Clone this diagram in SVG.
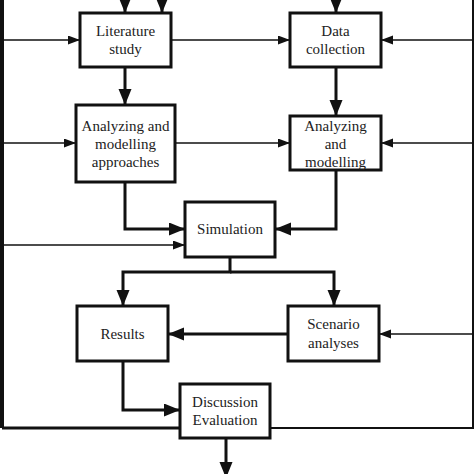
<svg xmlns="http://www.w3.org/2000/svg" width="474" height="474" viewBox="0 0 474 474">
<style>
.box{fill:#fff;stroke:#111;stroke-width:3}
.t{font-family:"Liberation Serif","Times New Roman",serif;font-size:15px;fill:#222;text-anchor:middle}
.thick{fill:none;stroke:#111;stroke-width:3}
.thin{fill:none;stroke:#111;stroke-width:1.6}
</style>
<defs>
<marker id="ah" markerUnits="userSpaceOnUse" markerWidth="18" markerHeight="14" refX="16" refY="6.5" orient="auto"><path d="M0,0 L16,6.5 L0,13 Z" fill="#111"/></marker>
<marker id="as" markerUnits="userSpaceOnUse" markerWidth="14" markerHeight="10" refX="12" refY="4.5" orient="auto"><path d="M0,0 L12,4.5 L0,9 Z" fill="#111"/></marker>
</defs>
<g id="connectors">
<line class="thick" x1="125" y1="-5" x2="125" y2="13" marker-end="url(#ah)"/>
<line class="thick" x1="162" y1="-5" x2="162" y2="13" marker-end="url(#ah)"/>
<line class="thick" x1="336" y1="-5" x2="336" y2="13" marker-end="url(#ah)"/>
<path d="M2,0 V428" fill="none" stroke="#111" stroke-width="4"/>
<path class="thick" d="M2,428 H180"/>
<line class="thin" x1="2" y1="40" x2="80" y2="40" marker-end="url(#as)"/>
<line class="thin" x1="2" y1="143" x2="76" y2="143" marker-end="url(#as)"/>
<line class="thin" x1="2" y1="245" x2="185" y2="245" marker-end="url(#as)"/>
<line class="thin" x1="171" y1="40" x2="290" y2="40" marker-end="url(#as)"/>
<line class="thin" x1="175" y1="143" x2="290" y2="143" marker-end="url(#as)"/>
<path d="M473,0 V428 H270" fill="none" stroke="#111" stroke-width="2"/>
<line class="thin" x1="473" y1="40" x2="381" y2="40" marker-end="url(#as)"/>
<line class="thin" x1="473" y1="143" x2="381" y2="143" marker-end="url(#as)"/>
<line class="thin" x1="473" y1="334" x2="379" y2="334" marker-end="url(#as)"/>
<line class="thick" x1="125" y1="67" x2="125" y2="105" marker-end="url(#ah)"/>
<line class="thick" x1="336" y1="67" x2="336" y2="116" marker-end="url(#ah)"/>
<path class="thick" d="M125,182 V229 H185" marker-end="url(#ah)"/>
<path class="thick" d="M336,170 V229 H275" marker-end="url(#ah)"/>
<path class="thick" d="M230,257 V272 H123 V306" marker-end="url(#ah)"/>
<path class="thick" d="M230,272 H334 V306" marker-end="url(#ah)"/>
<line class="thick" x1="288" y1="334" x2="168" y2="334" marker-end="url(#ah)"/>
<path class="thick" d="M123,361 V410 H180" marker-end="url(#ah)"/>
<line class="thick" x1="226" y1="438" x2="226" y2="478" marker-end="url(#ah)"/>
</g>
<g id="literature">
<rect class="box" x="80" y="13" width="91" height="54"/>
<text class="t" x="125.5" y="36">Literature</text>
<text class="t" x="125.5" y="54">study</text>
</g>
<g id="data">
<rect class="box" x="290" y="13" width="91" height="54"/>
<text class="t" x="335.5" y="36">Data</text>
<text class="t" x="335.5" y="54">collection</text>
</g>
<g id="approaches">
<rect class="box" x="76" y="105" width="99" height="77"/>
<text class="t" x="125.5" y="131">Analyzing and</text>
<text class="t" x="125.5" y="149">modelling</text>
<text class="t" x="125.5" y="167">approaches</text>
</g>
<g id="modelling">
<rect class="box" x="290" y="116" width="91" height="54"/>
<text class="t" x="335.5" y="131">Analyzing</text>
<text class="t" x="335.5" y="149">and</text>
<text class="t" x="335.5" y="167">modelling</text>
</g>
<g id="simulation">
<rect class="box" x="185" y="202" width="90" height="55"/>
<text class="t" x="230" y="234">Simulation</text>
</g>
<g id="results">
<rect class="box" x="77" y="306" width="91" height="55"/>
<text class="t" x="122.5" y="339">Results</text>
</g>
<g id="scenario">
<rect class="box" x="288" y="306" width="91" height="55"/>
<text class="t" x="333.5" y="329">Scenario</text>
<text class="t" x="333.5" y="348">analyses</text>
</g>
<g id="discussion">
<rect class="box" x="180" y="384" width="90" height="54"/>
<text class="t" x="225" y="407">Discussion</text>
<text class="t" x="225" y="425">Evaluation</text>
</g>
</svg>
